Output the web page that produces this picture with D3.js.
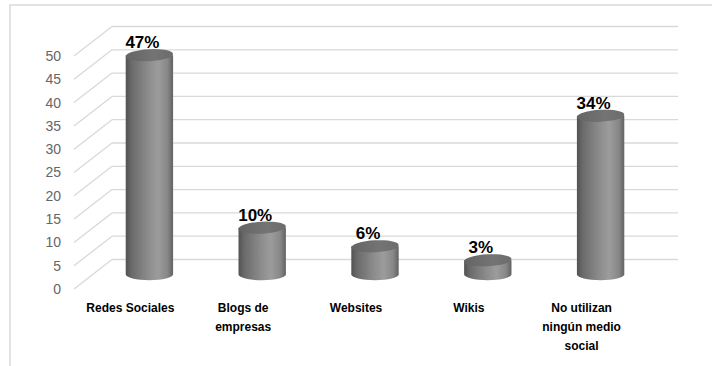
<!DOCTYPE html>
<html>
<head>
<meta charset="utf-8">
<script src="https://cdn.jsdelivr.net/npm/d3@7"></script>
<style>
  html, body { margin: 0; padding: 0; background: #fff; }
  svg { display: block; }
</style>
</head>
<body>
<svg id="chart" width="712" height="366"></svg>
<script>
// Uso de medios sociales (porcentaje)
const categories = ["Redes Sociales", "Blogs de empresas", "Websites", "Wikis", "No utilizan ningún medio social"];
const categoryLines = [["Redes Sociales"], ["Blogs de", "empresas"], ["Websites"], ["Wikis"], ["No utilizan", "ningún medio", "social"]];
const values = [47, 10, 6, 3, 34];
const valueLabels = ["47%", "10%", "6%", "3%", "34%"];
const yTicks = [0, 5, 10, 15, 20, 25, 30, 35, 40, 45, 50];

const svg = d3.select("#chart");

// Oblique 3D projection: the bars stand on the middle plane;
// the wall grid sits behind it, axis labels in front of it.
const depthX = 19, depthY = -14.75;

const y = d3.scaleLinear().domain([0, 50]).range([274.25, 41.25]);
const x = d3.scaleBand().domain(categories).range([93, 657])
  .paddingInner(0.58).paddingOuter(0.29);

// outer chart frame
svg.append("rect")
  .attr("x", 10).attr("y", 5).attr("width", 760).attr("height", 420)
  .attr("fill", "none").attr("stroke", "#d9d9d9").attr("stroke-width", 1.5);

// gradients for the cylinders
const defs = svg.append("defs");
const sideGrad = defs.append("linearGradient").attr("id", "cylSide")
  .attr("x1", "0%").attr("x2", "100%").attr("y1", "0%").attr("y2", "0%");
[["0%", "#525252"], ["12%", "#6a6a6a"], ["45%", "#8a8a8a"], ["68%", "#9c9c9c"], ["88%", "#888"], ["100%", "#626262"]]
  .forEach(([o, c]) => sideGrad.append("stop").attr("offset", o).attr("stop-color", c));
const topGrad = defs.append("linearGradient").attr("id", "cylTop")
  .attr("x1", "0%").attr("x2", "100%").attr("y1", "0%").attr("y2", "0%");
[["0%", "#646464"], ["60%", "#747474"], ["100%", "#6c6c6c"]]
  .forEach(([o, c]) => topGrad.append("stop").attr("offset", o).attr("stop-color", c));

// back-wall gridlines and their diagonal side-wall segments
const grid = svg.append("g").attr("stroke", "#d9d9d9").attr("stroke-width", 1.3).attr("fill", "none");
yTicks.forEach(t => {
  const yb = y(t) + depthY;
  grid.append("line")
    .attr("x1", 93 + depthX).attr("x2", 678)
    .attr("y1", yb).attr("y2", yb);
  grid.append("line")
    .attr("x1", 93 - depthX).attr("y1", y(t) - depthY)
    .attr("x2", 93 + depthX).attr("y2", yb);
});

// y axis labels on the front plane
svg.append("g")
  .selectAll("text").data(yTicks).join("text")
  .attr("x", 61).attr("y", d => y(d) - depthY)
  .attr("dy", "0.35em")
  .attr("text-anchor", "end")
  .attr("font-family", "Liberation Sans, Arial, sans-serif")
  .attr("font-size", 14)
  .attr("fill", "#666")
  .text(d => d);

// cylinders
const rx = x.bandwidth() / 2, ry = 6;
const bars = svg.append("g").selectAll("g").data(values).join("g");
bars.append("path")
  .attr("fill", "url(#cylSide)")
  .attr("d", (d, i) => {
    const l = x(categories[i]), r = l + x.bandwidth();
    const yt = y(d), yb = y(0);
    return `M${l},${yt} L${l},${yb} A${rx},${ry} 0 0 0 ${r},${yb} L${r},${yt} Z`;
  });
bars.append("ellipse")
  .attr("cx", (d, i) => x(categories[i]) + rx)
  .attr("cy", d => y(d))
  .attr("rx", rx).attr("ry", ry)
  .attr("fill", "url(#cylTop)")
  .attr("transform", (d, i) => `rotate(-3 ${x(categories[i]) + rx} ${y(d)})`);

// value labels
svg.append("g")
  .selectAll("text").data(values).join("text")
  .attr("x", (d, i) => x(categories[i]) + rx - 7)
  .attr("y", d => y(d) - 7)
  .attr("text-anchor", "middle")
  .attr("font-family", "Liberation Sans, Arial, sans-serif")
  .attr("font-weight", "bold")
  .attr("font-size", 17)
  .attr("fill", "#000")
  .text((d, i) => valueLabels[i]);

// category labels (front plane)
const cat = svg.append("g")
  .selectAll("text").data(categories).join("text")
  .attr("x", d => x(d) + rx - depthX)
  .attr("y", 312)
  .attr("text-anchor", "middle")
  .attr("font-family", "Liberation Sans, Arial, sans-serif")
  .attr("font-weight", "bold")
  .attr("font-size", 12)
  .attr("fill", "#000");
cat.selectAll("tspan").data((d, i) => categoryLines[i]).join("tspan")
  .attr("x", function () { return d3.select(this.parentNode).attr("x"); })
  .attr("dy", (d, j) => j === 0 ? 0 : 19)
  .text(d => d);
</script>
</body>
</html>
